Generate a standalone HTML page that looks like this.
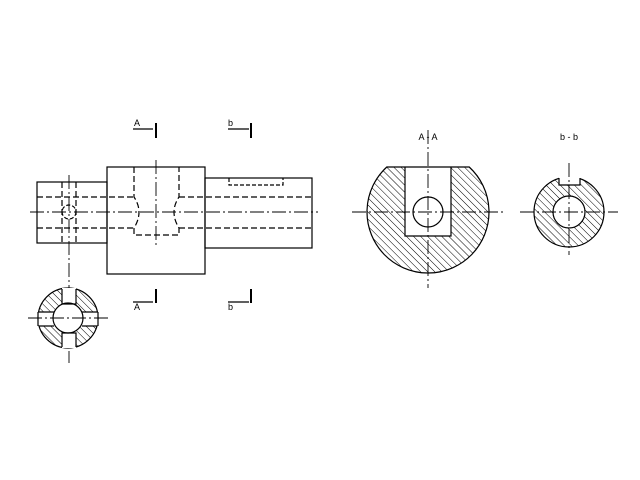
<!DOCTYPE html>
<html><head><meta charset="utf-8"><style>html,body{margin:0;padding:0;background:#fff}svg{display:block}</style></head>
<body>
<svg width="640" height="480" viewBox="0 0 640 480" xmlns="http://www.w3.org/2000/svg" font-family="Liberation Sans, sans-serif">
<defs>
<pattern id="h" width="5" height="5" patternUnits="userSpaceOnUse" patternTransform="rotate(-45)">
<line x1="0" y1="0" x2="0" y2="5" stroke="#000" stroke-width="1"/>
</pattern>
</defs>
<rect width="640" height="480" fill="#fff"/>
<g stroke="#000" stroke-width="1.2" fill="none">
<rect x="37" y="182" width="70" height="61"/>
<rect x="107" y="167" width="98" height="107"/>
<rect x="205" y="178" width="107" height="70"/>
<polyline points="229,178 229,185 283,185 283,178" stroke-dasharray="4,2"/>
<g stroke-dasharray="6,3">
<line x1="37" y1="197" x2="134" y2="197"/><line x1="179" y1="197" x2="312" y2="197"/>
<line x1="37" y1="228" x2="134" y2="228"/><line x1="179" y1="228" x2="312" y2="228"/>
<line x1="62" y1="182" x2="62" y2="243"/><line x1="76" y1="182" x2="76" y2="243"/>
<path d="M134,167 V197 Q144,212 134,228 V235 H179 V228 Q169,212 179,197 V167"/>
</g>
<circle cx="69" cy="212" r="7" stroke-dasharray="4,2"/>
<g stroke-width="0.9" stroke-dasharray="14,3,2,3">
<line x1="30" y1="212" x2="318" y2="212"/>
<line x1="69" y1="175" x2="69" y2="363"/>
<line x1="156" y1="160" x2="156" y2="247"/>
</g>
<line x1="133" y1="129" x2="153" y2="129"/><line x1="156" y1="123" x2="156" y2="138" stroke-width="2"/>
<line x1="228" y1="129" x2="249" y2="129"/><line x1="251" y1="123" x2="251" y2="138" stroke-width="2"/>
<line x1="133" y1="302" x2="153" y2="302"/><line x1="156" y1="289" x2="156" y2="303" stroke-width="2"/>
<line x1="228" y1="302" x2="249" y2="302"/><line x1="251" y1="289" x2="251" y2="303" stroke-width="2"/>
</g>
<g font-size="9" fill="#000">
<text x="134" y="126">A</text><text x="228" y="126">b</text>
<text x="134" y="310">A</text><text x="228" y="310">b</text>
<text x="428" y="140" text-anchor="middle">A - A</text>
<text x="569" y="140" text-anchor="middle">b - b</text>
</g>
<circle cx="68" cy="318" r="30" fill="url(#h)" stroke="#000" stroke-width="1.2"/>
<rect x="38" y="312" width="60" height="14" fill="#fff"/>
<rect x="62" y="288" width="14" height="60" fill="#fff"/>
<circle cx="68" cy="318" r="15" fill="#fff" stroke="#000" stroke-width="1.2"/>
<g stroke="#000" stroke-width="1.2" fill="none">
<path d="M62,289 V304 H76 V289 M62,347 V333 H76 V347 M38.5,312 H54 M38.5,326 H54 M82,312 H97.5 M82,326 H97.5"/>
<path d="M38,312 V326 M98,312 V326" />
<g stroke-width="0.9" stroke-dasharray="14,3,2,3"><line x1="28" y1="318" x2="110" y2="318"/></g>
</g>
<path d="M386.8,167 A61,61 0 1 0 469.2,167 Z M405,167 V236 H451 V167 Z" fill="url(#h)" fill-rule="evenodd" stroke="#000" stroke-width="1.2"/>
<circle cx="428" cy="212" r="15" fill="#fff" stroke="#000" stroke-width="1.2"/>
<g stroke="#000" stroke-width="0.9" stroke-dasharray="14,3,2,3">
<line x1="352" y1="212" x2="505" y2="212"/><line x1="428" y1="130" x2="428" y2="288"/>
</g>
<circle cx="569" cy="212" r="35" fill="url(#h)" stroke="#000" stroke-width="1.2"/>
<rect x="559" y="175" width="21" height="10" fill="#fff"/>
<path d="M559,178 V185 H580 V178" fill="none" stroke="#000" stroke-width="1.2"/>
<circle cx="569" cy="212" r="16" fill="#fff" stroke="#000" stroke-width="1.2"/>
<g stroke="#000" stroke-width="0.9" stroke-dasharray="14,3,2,3">
<line x1="520" y1="212" x2="618" y2="212"/><line x1="569" y1="163" x2="569" y2="255"/>
</g>
</svg>
</body></html>
